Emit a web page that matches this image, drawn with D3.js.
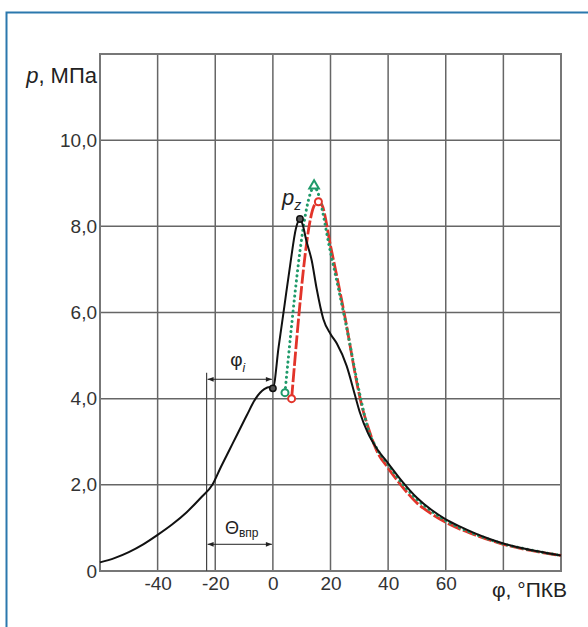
<!DOCTYPE html>
<html><head><meta charset="utf-8">
<script src="https://cdn.jsdelivr.net/npm/d3@7"></script>
<style>
html,body{margin:0;padding:0;background:#fff;}
svg{display:block;font-family:"Liberation Sans",Arial,sans-serif;}
</style></head>
<body><svg id="c" width="588" height="627"></svg>
<script>
// ---- data ----
const xTicks = [-40, -20, 0, 20, 40, 60];
const xGrid = [-60, -40, -20, 0, 20, 40, 60, 80, 100];
const yTicks = [0, 2, 4, 6, 8, 10];
const yTickLabels = ["0", "2,0", "4,0", "6,0", "8,0", "10,0"];
const yGrid = [0, 2, 4, 6, 8, 10, 12];

const blackPhi = [-60,-55,-50,-45,-40,-35,-30,-25,-21,-18,-15,-12,-9,-6,-3,-1,0,2,4,6,8,9.4,10.5,11.5,13.5,15.2,17.5,20,22.2,25.6,28.5,30.2,33,36,40,45,50,55,60,65,70,75,80,85,90,95,100];
const blackP   = [0.2,0.3,0.44,0.62,0.84,1.08,1.36,1.7,2.0,2.42,2.82,3.22,3.62,4.0,4.22,4.27,4.24,5.2,6.15,7.1,7.95,8.17,8.0,7.7,7.2,6.55,5.85,5.5,5.28,4.76,4.08,3.68,3.2,2.85,2.5,2.07,1.7,1.42,1.2,1.03,0.88,0.75,0.64,0.55,0.48,0.42,0.36];

const greenPhi = [4.2,13.5,14.3,15.2,20,25,30.5,33,36,40,45,50,55,60,70,80,90,100];
const greenP   = [4.14,8.85,8.94,8.85,7.4,5.85,4.0,3.3,2.85,2.47,2.02,1.66,1.39,1.17,0.86,0.63,0.48,0.36];

const redPhi = [6.5,14.5,15.8,17,20,25,29.6,31,33,36,40,45,50,55,60,70,80,90,100];
const redP   = [4.0,8.5,8.57,8.5,7.55,5.9,4.22,3.8,3.35,2.8,2.39,1.95,1.58,1.33,1.13,0.84,0.62,0.47,0.36];

const blackMarks = [[0,4.24],[9.4,8.17]];
const greenCircle = [[4.2,4.14]];
const greenTriangle = [[14.3,8.94]];
const redMarks = [[6.5,4.0],[15.8,8.57]];

const thetaStart = -23;   // injection advance angle
const phiiLevel = 4.45;
const thetaLevel = 0.62;

// ---- scales ----
const svg = d3.select("#c");
const x = d3.scaleLinear().domain([-60, 100]).range([100, 561]);
const y = d3.scaleLinear().domain([0, 12]).range([571, 54]);

// outer frame
svg.append("rect").attr("x", 6.5).attr("y", 12.5).attr("width", 600).attr("height", 640)
  .attr("fill", "none").attr("stroke", "#2b78ad").attr("stroke-width", 2);

// grid
const g = svg.append("g");
g.selectAll(".vg").data(xGrid).enter().append("line")
  .attr("x1", d => x(d)).attr("x2", d => x(d)).attr("y1", y(12)).attr("y2", y(0))
  .attr("stroke", "#666").attr("stroke-width", 1.5);
g.selectAll(".hg").data(yGrid).enter().append("line")
  .attr("y1", d => y(d)).attr("y2", d => y(d)).attr("x1", x(-60)).attr("x2", x(100))
  .attr("stroke", "#666").attr("stroke-width", 1.5);
g.append("rect").attr("x", x(-60)).attr("y", y(12)).attr("width", x(100) - x(-60)).attr("height", y(0) - y(12))
  .attr("fill", "none").attr("stroke", "#777").attr("stroke-width", 2);

// axes (labels only)
const yAxis = d3.axisLeft(y).tickValues(yTicks).tickSize(0).tickPadding(3)
  .tickFormat((d, i) => yTickLabels[i]);
const ya = svg.append("g").attr("transform", `translate(${x(-60)},0)`).call(yAxis);
ya.select(".domain").remove();
ya.selectAll("text").attr("font-size", 19).attr("fill", "#333").attr("font-family", "Liberation Sans, Arial, sans-serif");

const xAxis = d3.axisBottom(x).tickValues(xTicks).tickSize(0).tickPadding(6).tickFormat(d => String(d));
const xa = svg.append("g").attr("transform", `translate(0,${y(0)})`).call(xAxis);
xa.select(".domain").remove();
xa.selectAll("text").attr("font-size", 19).attr("fill", "#333").attr("font-family", "Liberation Sans, Arial, sans-serif");

// axis titles
svg.append("text").attr("x", 97).attr("y", 83).attr("text-anchor", "end")
  .attr("font-size", 22).attr("fill", "#222")
  .html('<tspan font-style="italic">p</tspan>, МПа');
svg.append("text").attr("x", 567).attr("y", 597).attr("text-anchor", "end")
  .attr("font-size", 21).attr("fill", "#222")
  .text("φ, °ПКВ");

// annotations
const defs = svg.append("defs");
defs.append("marker").attr("id", "arr").attr("viewBox", "0 0 10 10").attr("refX", 10).attr("refY", 5)
  .attr("markerWidth", 8).attr("markerHeight", 6).attr("orient", "auto-start-reverse")
  .append("path").attr("d", "M0,1 L10,5 L0,9 z").attr("fill", "#222");

svg.append("line").attr("x1", x(thetaStart)).attr("x2", x(thetaStart)).attr("y1", y(4.6)).attr("y2", y(0))
  .attr("stroke", "#444").attr("stroke-width", 1.2);
[phiiLevel, thetaLevel].forEach(v => {
  svg.append("line").attr("x1", x(thetaStart) + 1).attr("x2", x(0) - 1).attr("y1", y(v)).attr("y2", y(v))
    .attr("stroke", "#222").attr("stroke-width", 1)
    .attr("marker-start", "url(#arr)").attr("marker-end", "url(#arr)");
});
svg.append("text").attr("x", x((thetaStart) / 2) - 2).attr("y", y(phiiLevel) - 13).attr("text-anchor", "middle")
  .attr("font-size", 19).attr("fill", "#222")
  .html('φ<tspan font-style="italic" font-size="12" dy="6">i</tspan>');
svg.append("text").attr("x", x((thetaStart) / 2) + 2).attr("y", y(thetaLevel) - 10).attr("text-anchor", "middle")
  .attr("font-size", 18).attr("fill", "#222")
  .html('Θ<tspan font-size="12" dy="3">впр</tspan>');
svg.append("text").attr("x", 282).attr("y", 205).attr("font-size", 22).attr("fill", "#222").attr("font-style", "italic")
  .html('p<tspan font-size="14" dy="5">z</tspan>');

// curves
const line = d3.line().x(d => x(d[0])).y(d => y(d[1])).curve(d3.curveMonotoneX);
const zip = (a, b) => a.map((v, i) => [v, b[i]]);

svg.append("path").datum(zip(redPhi, redP)).attr("d", line)
  .attr("fill", "none").attr("stroke", "#e2342a").attr("stroke-width", 2.8)
  .attr("stroke-dasharray", "14,2.5");
svg.append("path").datum(zip(greenPhi, greenP)).attr("d", line)
  .attr("fill", "none").attr("stroke", "#1f9a6a").attr("stroke-width", 3)
  .attr("stroke-dasharray", "0.1,5").attr("stroke-linecap", "round");
svg.append("path").datum(zip(blackPhi, blackP)).attr("d", line)
  .attr("fill", "none").attr("stroke", "#111").attr("stroke-width", 2);

// markers
svg.selectAll(".bm").data(blackMarks).enter().append("circle")
  .attr("cx", d => x(d[0])).attr("cy", d => y(d[1])).attr("r", 3.2)
  .attr("fill", "#555").attr("stroke", "#111").attr("stroke-width", 1.5);
svg.selectAll(".gm").data(greenCircle).enter().append("circle")
  .attr("cx", d => x(d[0])).attr("cy", d => y(d[1])).attr("r", 3.5)
  .attr("fill", "#fff").attr("stroke", "#1f9a6a").attr("stroke-width", 2);
svg.selectAll(".gt").data(greenTriangle).enter().append("path")
  .attr("transform", d => `translate(${x(d[0])},${y(d[1])})`)
  .attr("d", d3.symbol(d3.symbolTriangle, 40))
  .attr("fill", "#fff").attr("stroke", "#1f9a6a").attr("stroke-width", 2);
svg.selectAll(".rm").data(redMarks).enter().append("circle")
  .attr("cx", d => x(d[0])).attr("cy", d => y(d[1])).attr("r", 3.5)
  .attr("fill", "#fff").attr("stroke", "#e2342a").attr("stroke-width", 2);
</script></body></html>
